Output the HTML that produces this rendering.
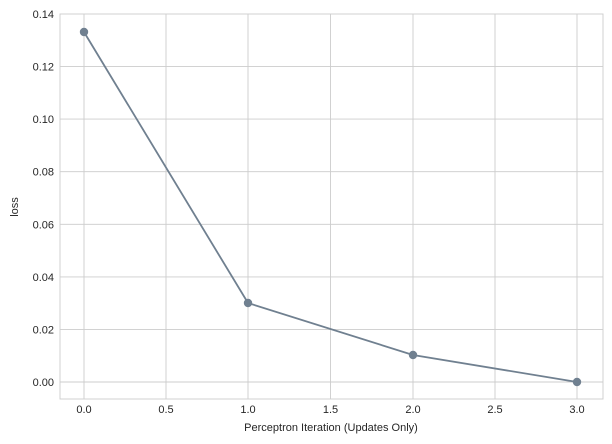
<!DOCTYPE html>
<html><head><style>body{margin:0;background:#fff}svg{display:block}</style></head><body>
<svg width="612" height="444" xmlns="http://www.w3.org/2000/svg" font-family="Liberation Sans, sans-serif" font-size="11" fill="#262626">
<g stroke="#cccccc" stroke-width="0.9">
<line x1="84" y1="14" x2="84" y2="399"/><line x1="166" y1="14" x2="166" y2="399"/><line x1="248" y1="14" x2="248" y2="399"/><line x1="330.5" y1="14" x2="330.5" y2="399"/><line x1="413" y1="14" x2="413" y2="399"/><line x1="495" y1="14" x2="495" y2="399"/><line x1="577" y1="14" x2="577" y2="399"/>
<line x1="60" y1="382" x2="603" y2="382"/><line x1="60" y1="329.4" x2="603" y2="329.4"/><line x1="60" y1="276.9" x2="603" y2="276.9"/><line x1="60" y1="224.3" x2="603" y2="224.3"/><line x1="60" y1="171.7" x2="603" y2="171.7"/><line x1="60" y1="119.1" x2="603" y2="119.1"/><line x1="60" y1="66.6" x2="603" y2="66.6"/>
<rect x="60" y="14" width="543" height="385" fill="none"/>
</g>
<g text-anchor="end">
<text x="54" y="386">0.00</text><text x="54" y="333.4">0.02</text><text x="54" y="280.9">0.04</text><text x="54" y="228.3">0.06</text><text x="54" y="175.7">0.08</text><text x="54" y="123.1">0.10</text><text x="54" y="70.6">0.12</text><text x="54" y="18">0.14</text>
</g>
<g text-anchor="middle">
<text x="84" y="413">0.0</text><text x="166" y="413">0.5</text><text x="248" y="413">1.0</text><text x="330.5" y="413">1.5</text><text x="413" y="413">2.0</text><text x="495" y="413">2.5</text><text x="577" y="413">3.0</text>
<text x="331" y="431">Perceptron Iteration (Updates Only)</text>
<text transform="translate(18,207) rotate(-90)">loss</text>
</g>
<polyline points="84,32 248,303 413,355 577,382" fill="none" stroke="#708090" stroke-width="1.8"/>
<g fill="#708090"><circle cx="84" cy="32" r="4.2"/><circle cx="248" cy="303" r="4.2"/><circle cx="413" cy="355" r="4.2"/><circle cx="577" cy="382" r="4.2"/></g>
</svg>
</body></html>
